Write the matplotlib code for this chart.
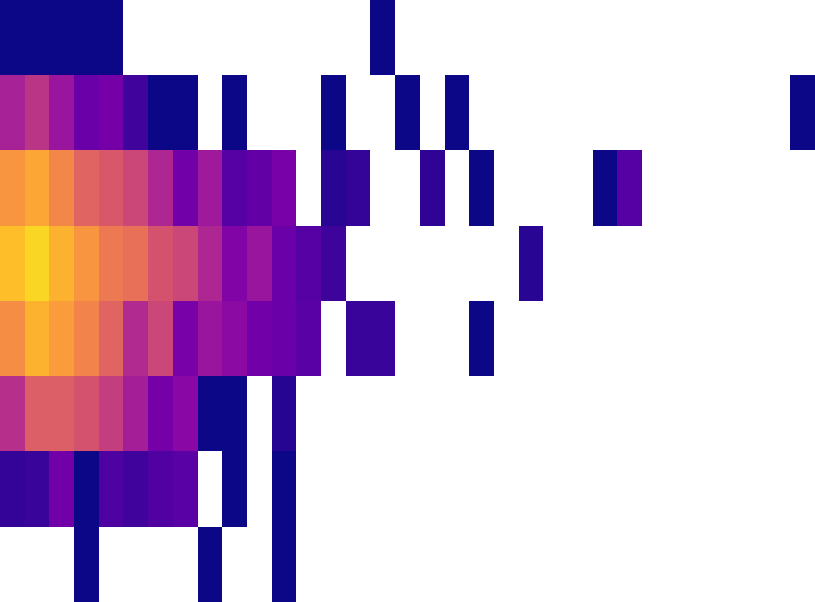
import numpy as np
import matplotlib
matplotlib.use('Agg')
import matplotlib.pyplot as plt

n = np.nan

# colour level of each cell (0 = darkest, 1 = brightest), nan = empty bin
row0 = [0, 0, 0, 0, 0, n, n, n, n, n, n, n, n, n, n, 0, n,
        n, n, n, n, n, n, n, n, n, n, n, n, n, n, n, n]
row1 = [.37, .44, .33, .20, .23, .10, 0, 0, n, 0, n, n, n, 0, n, n, 0,
        n, 0, n, n, n, n, n, n, n, n, n, n, n, n, n, 0]
row2 = [.75, .80, .71, .60, .56, .50, .39, .22, .34, .15, .18, .24, n, .05, .07, n, n,
        .06, n, 0, n, n, n, n, 0, .15, n, n, n, n, n, n, n]
row3 = [.86, .92, .83, .75, .67, .64, .54, .50, .39, .26, .33, .20, .15, .09, n, n, n,
        n, n, n, n, .05, n, n, n, n, n, n, n, n, n, n, n]
row4 = [.73, .83, .77, .70, .60, .40, .50, .24, .33, .29, .22, .20, .16, n, .08, .08, n,
        n, n, 0, n, n, n, n, n, n, n, n, n, n, n, n, n]
row5 = [.42, .58, .58, .54, .47, .36, .23, .28, 0, 0, n, .04, n, n, n, n, n,
        n, n, n, n, n, n, n, n, n, n, n, n, n, n, n, n]
row6 = [.07, .08, .22, 0, .13, .10, .14, .16, n, 0, n, 0, n, n, n, n, n,
        n, n, n, n, n, n, n, n, n, n, n, n, n, n, n, n]
row7 = [n, n, n, 0, n, n, n, n, 0, n, n, 0, n, n, n, n, n,
        n, n, n, n, n, n, n, n, n, n, n, n, n, n, n, n]

grid = np.array([row0, row1, row2, row3, row4, row5, row6, row7])
grid = np.ma.masked_invalid(grid)

fig = plt.figure(figsize=(8.15, 6.02), dpi=100)
ax = fig.add_axes([0, 0, 1, 1])
cmap = plt.get_cmap('plasma').copy()
cmap.set_bad('white')
ax.imshow(grid, cmap=cmap, vmin=0, vmax=1, aspect='auto', interpolation='nearest')
ax.axis('off')

fig.savefig('out.png', dpi=100)
